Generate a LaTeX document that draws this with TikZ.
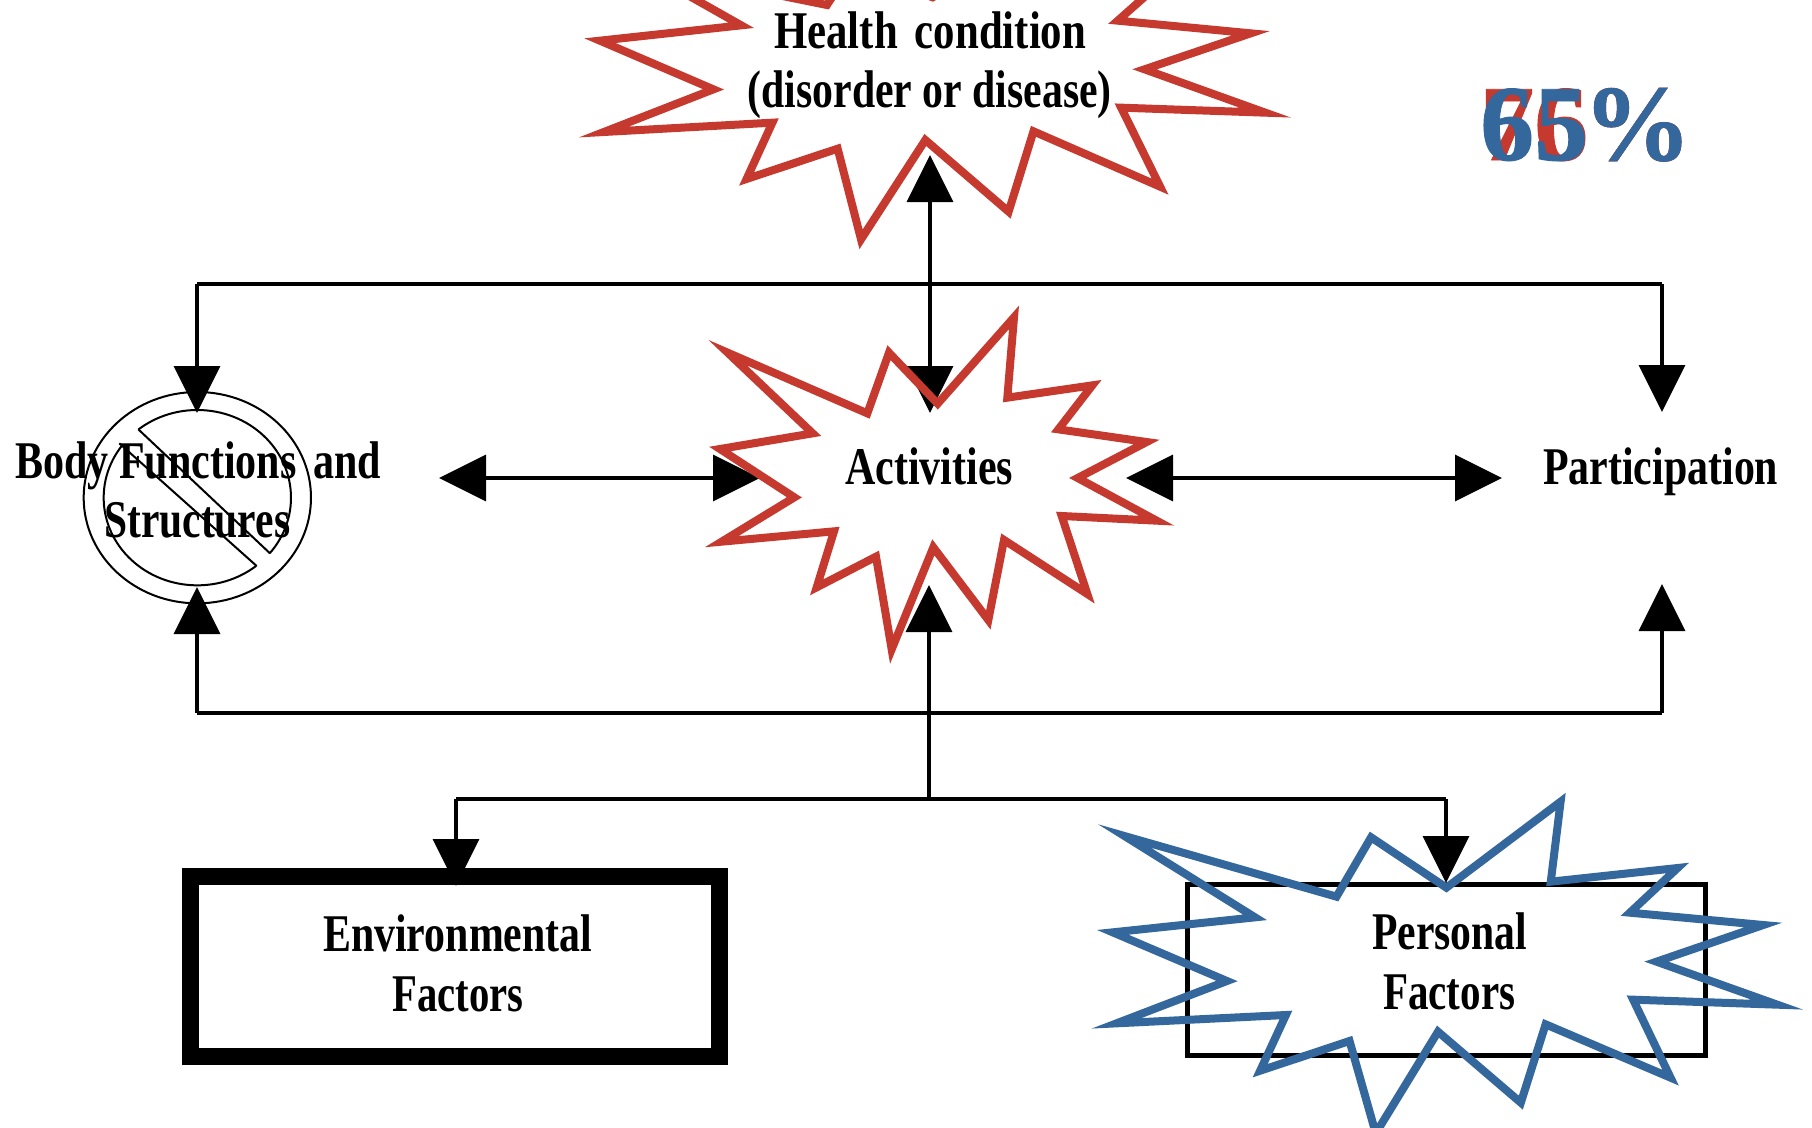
\documentclass[tikz,border=0pt]{standalone}
\usepackage{fontspec}
\setmainfont{Liberation Serif}
\newfontfamily\pctfont[BoldFont={Liberation Serif Bold},BoldFeatures={FakeBold=0.8}]{Liberation Serif}
\usetikzlibrary{arrows.meta}
\definecolor{starred}{HTML}{C5392F}
\definecolor{starblue}{HTML}{34679C}
\newcommand{\lbl}[2]{\resizebox{#1pt}{\height}{\fontsize{53}{53}\selectfont\bfseries #2}}
\tikzset{
  conn/.style={line width=3.5pt,draw=black},
  head/.style={-{Triangle[length=47pt,width=46pt]}},
  headboth/.style={{Triangle[length=47pt,width=46pt]}-{Triangle[length=47pt,width=46pt]}},
  burst/.style={line width=8pt,line join=miter,miter limit=12},
  caption/.style={inner sep=0pt,anchor=base west},
  bigpct/.style={inner sep=0pt,anchor=base west,font=\pctfont\fontsize{108}{108}\selectfont\bfseries},
  boxnode/.style={draw=black,inner sep=0pt,outer sep=0pt,anchor=center},
}
\begin{document}
\begin{tikzpicture}[x=1pt,y=-1pt]
\useasboundingbox (0,0) rectangle (1812,1127);
\fill[white] (0,0) rectangle (1812,1127);

% junction coordinates
\coordinate (topL) at (197,284);
\coordinate (topC) at (930,284);
\coordinate (topR) at (1662,284);
\coordinate (botL) at (197,713);
\coordinate (botC) at (929,713);
\coordinate (botR) at (1662,713);
\coordinate (lowC) at (929,799);
\coordinate (lowL) at (456,799);
\coordinate (lowR) at (1446,799);
\coordinate (healthTip) at (930,155);
\coordinate (actTop) at (930,413);
\coordinate (actBot) at (929,585);
\coordinate (bodyTop) at (197,413);
\coordinate (bodyBot) at (197,587);
\coordinate (partTop) at (1662,412);
\coordinate (partBot) at (1662,584);
\coordinate (bodyR) at (439,478);
\coordinate (actL) at (760,478);
\coordinate (actR) at (1126,478);
\coordinate (partL) at (1502,478);
\coordinate (envTop) at (456,886);
\coordinate (persTop) at (1446,883);

% connectors
\draw[conn] (topL) -- (topR);
\draw[conn] (botL) -- (botR);
\draw[conn] (lowL) -- (lowR);
\draw[conn,head] (topL) -- (bodyTop);
\draw[conn,head] (topR) -- (partTop);
\draw[conn,headboth] (healthTip) -- (actTop);
\draw[conn,head] (botL) -- (bodyBot);
\draw[conn,head] (botR) -- (partBot);
\draw[conn,head] (lowC) -- (actBot);
\draw[conn,head] (lowL) -- (envTop);
\draw[conn,head] (lowR) -- (persTop);
\draw[conn,headboth] (bodyR) -- (actL);
\draw[conn,headboth] (actR) -- (partL);

% no-entry symbol
\begin{scope}[shift={(0,350)},x=0.33333pt,y=-0.33333pt]
  \draw[line width=2pt] (592,443) ellipse [x radius=341,y radius=317];
  \draw[line width=2pt] (592,443) ellipse [x radius=281,y radius=263];
  \fill[white] (400,224) -- (825,625) -- (785,662) -- (343,266) -- cycle;
  \draw[line width=2pt] (415,238) -- (810,610);
  \draw[line width=2pt] (770,648) -- (358,280);
\end{scope}

% boxes
\node[boxnode,line width=17pt,minimum width=529pt,minimum height=180pt] (env) at (454.5,966) {};
\node[boxnode,line width=5pt,minimum width=518pt,minimum height=171pt] (personalbox) at (1446,969.5) {};

% bursts
\begin{scope}[shift={(560,0)},x=0.4871pt,y=-0.33333pt]
\draw[burst,starred] (372,76) -- (82,122) -- (315,268) -- (90,396) -- (436,368) -- (383,537) -- (570,446) -- (618,718) -- (750,420) -- (921,635) -- (972,394) -- (1232,560) -- (1152,323) -- (1448,338) -- (1200,208) -- (1418,100) -- (1145,62) -- (1270,-100) -- (1060,-40) -- (1000,-200) -- (765,-8) -- (600,-100) -- (548,15) -- (159,-100) -- cycle;
\end{scope}
\begin{scope}[shift={(680,290)},x=0.33333pt,y=-0.33333pt]
\draw[burst,starred] (143,188) -- (562,370) -- (627,188) -- (773,341) -- (1002,82) -- (982,323) -- (1237,286) -- (1135,418) -- (1400,456) -- (1193,564) -- (1430,692) -- (1145,678) -- (1222,912) -- (972,750) -- (925,990) -- (760,772) -- (635,1078) -- (588,800) -- (410,892) -- (462,724) -- (125,755) -- (343,622) -- (120,477) -- (398,430) -- cycle;
\end{scope}
\begin{scope}[shift={(1080,780)},x=0.46795pt,y=-0.33333pt]
\draw[burst,starblue] (95,168) -- (548,350) -- (622,172) -- (783,323) -- (1027,65) -- (1006,305) -- (1277,264) -- (1175,398) -- (1460,435) -- (1232,545) -- (1490,674) -- (1182,659) -- (1262,893) -- (995,733) -- (942,968) -- (765,755) -- (632,1060) -- (576,783) -- (385,872) -- (440,705) -- (78,730) -- (314,603) -- (70,457) -- (374,412) -- cycle;
\end{scope}

% labels
\node[caption] (health1) at (774,48) {\lbl{312}{Health\hspace{0.15em} condition}};
\node[caption] (health2) at (747.5,107) {\lbl{364}{(disorder or disease)}};
\node[caption] (activities) at (845,484) {\lbl{168}{Activities}};
\node[caption] (participation) at (1543,484) {\lbl{235}{Participation}};
\node[caption] (body1) at (15,478) {\lbl{366}{Body Functions\hspace{0.15em} and}};
\node[caption] (body2) at (104,537) {\lbl{186}{Structures}};
\node[caption] (env1) at (323,951) {\lbl{269}{Environmental}};
\node[caption] (env2) at (392,1011) {\lbl{131}{Factors}};
\node[caption] (pers1) at (1372,949) {\lbl{155}{Personal}};
\node[caption] (pers2) at (1383,1009) {\lbl{132}{Factors}};

\node[bigpct,text=starred] (pctred) at (1480,160) {76\kern-5pt\%};
\node[bigpct,text=starblue] (pctblue) at (1480,160) {65\kern-5pt\%};
\end{tikzpicture}
\end{document}
